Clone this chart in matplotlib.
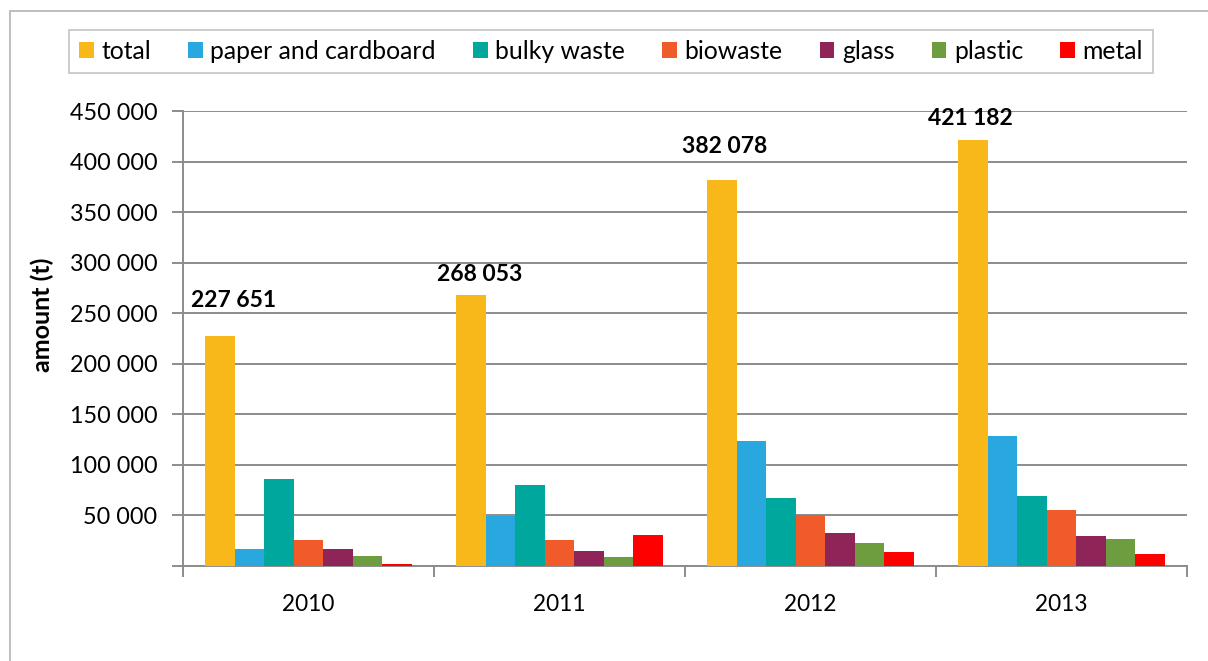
import matplotlib
matplotlib.use('Agg')
import matplotlib.pyplot as plt
import numpy as np
from matplotlib.patches import Rectangle

plt.rcParams['font.family'] = ['Lato', 'DejaVu Sans']

# data
years = ['2010', '2011', '2012', '2013']
series_names = ['total', 'paper and cardboard', 'bulky waste', 'biowaste', 'glass', 'plastic', 'metal']
total = [227651, 268053, 382078, 421182]
paper = [17000, 49000, 123500, 128500]
bulky = [86000, 80000, 67000, 69500]
biowaste = [26000, 26000, 50000, 55000]
glass = [16500, 15000, 33000, 29500]
plastic = [9500, 9000, 23000, 26500]
metal = [1500, 30500, 14000, 12000]

colors = ['#F8B819', '#29A8E0', '#00A79D', '#F15A29', '#8E2457', '#6E9D3F', '#FF0000']
label_offsets = [(14, 29), (9, 14), (3, 27), (-3, 15)]  # pixel shifts of the total labels

series = [total, paper, bulky, biowaste, glass, plastic, metal]

fig = plt.figure(figsize=(12.08, 6.61), dpi=100)
ax = fig.add_axes([183 / 1208, 1 - 566 / 661, (1187 - 183) / 1208, (566 - 111) / 661])

x = np.arange(len(years))
n = len(series)
group_w = 0.823
w = group_w / n
for i, (name, vals) in enumerate(zip(series_names, series)):
    ax.bar(x - group_w / 2 + w * (i + 0.5), vals, width=w, color=colors[i],
           label=name, zorder=3, linewidth=0)

# labels over total bars
for i, v in enumerate(total):
    xp = x[i] - group_w / 2 + w * 0.5
    ax.annotate(f"{v:,}".replace(',', ' '), (xp, v), xytext=label_offsets[i],
                textcoords='offset pixels', ha='center', va='baseline',
                fontsize=16.5, fontweight='bold', zorder=5)

grid_c = '#8C8C8C'
ax.set_xlim(-0.5, len(years) - 0.5)
ax.set_ylim(0, 450000)
yt = np.arange(0, 450001, 50000)
ax.set_yticks(yt)
ax.set_yticklabels(['' if t == 0 else f"{int(t):,}".replace(',', ' ') for t in yt])
ax.yaxis.grid(True, color=grid_c, linewidth=1.4, zorder=0)
ax.set_axisbelow(True)
ax.set_xticks(x)
ax.set_xticklabels(years)
ax.set_xticks(np.arange(-0.5, len(years)), minor=True)
ax.tick_params(axis='x', which='major', length=0, pad=20, labelsize=16.3)
ax.tick_params(axis='x', which='minor', length=8, width=1.4, color=grid_c, direction='out')
ax.tick_params(axis='y', length=8, width=1.4, color=grid_c, pad=10.5, labelsize=16.8)

for s in ['top', 'right']:
    ax.spines[s].set_visible(False)
for s in ['left', 'bottom']:
    ax.spines[s].set_color(grid_c)
    ax.spines[s].set_linewidth(1.4)

ax.set_ylabel('amount (t)', fontsize=18, fontweight='bold')
ax.yaxis.set_label_coords((54 - 183) / 1004, (566 - 315) / 455)

leg = ax.legend(loc='center', bbox_to_anchor=(611 / 1208, 1 - 51.5 / 661),
                bbox_transform=fig.transFigure, ncol=7, fontsize=17.8,
                frameon=True, fancybox=False, edgecolor='#BFBFBF',
                handlelength=0.6, handleheight=0.6, handletextpad=0.3,
                columnspacing=1.5, borderpad=0.42, borderaxespad=0)
leg.get_frame().set_linewidth(1.4)

# outer chart border
fig.patches.append(Rectangle((10 / 1208, -0.1), 1.2, 1 - 11 / 661 + 0.1,
                             transform=fig.transFigure, fill=False,
                             edgecolor='#BFBFBF', linewidth=1.4))

fig.savefig('out.png', dpi=100)
